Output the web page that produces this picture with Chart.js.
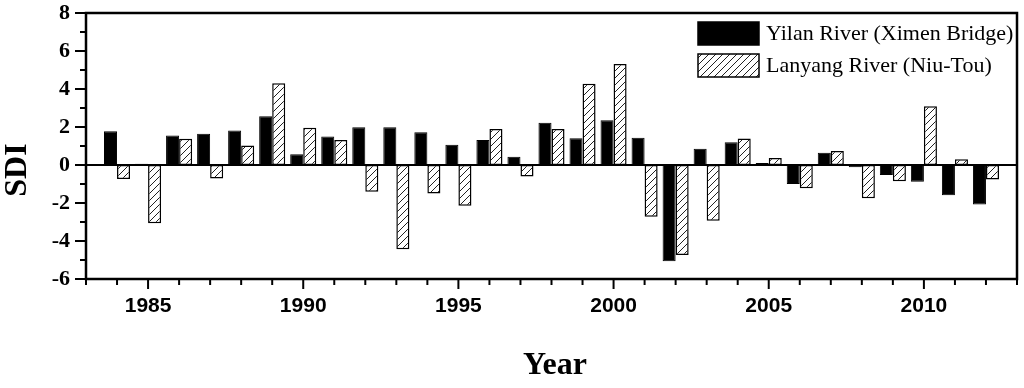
<!DOCTYPE html>
<html>
<head>
<meta charset="utf-8">
<script src="https://cdn.jsdelivr.net/npm/chart.js@4/dist/chart.umd.min.js"></script>
<style>
  html, body { margin: 0; padding: 0; background: #fff; }
  #wrap { width: 1024px; height: 388px; }
</style>
</head>
<body>
<div id="wrap"><canvas id="sdiChart" width="1024" height="388"></canvas></div>
<script>
// years shown on the axis (1983 and 2013 are the empty ends of the frame)
const years = [1983, 1984, 1985, 1986, 1987, 1988, 1989, 1990, 1991, 1992, 1993, 1994, 1995,
  1996, 1997, 1998, 1999, 2000, 2001, 2002, 2003, 2004, 2005, 2006, 2007, 2008, 2009,
  2010, 2011, 2012, 2013];

const yilanSDI = [null, 1.78, 0.07, 1.55, 1.64, 1.82, 2.57, 0.56, 1.50, 1.99, 1.99, 1.73, 1.06,
  1.32, 0.44, 2.22, 1.41, 2.36, 1.43, -5.06, 0.86, 1.20, 0.10, -1.00, 0.65, -0.12, -0.53,
  -0.88, -1.59, -2.08, null];

const lanyangSDI = [null, -0.74, -3.07, 1.38, -0.71, 1.02, 4.30, 1.96, 1.32, -1.41, -4.44, -1.50, -2.15,
  1.90, -0.60, 1.90, 4.27, 5.31, -2.73, -4.74, -2.93, 1.39, 0.37, -1.22, 0.74, -1.75, -0.86,
  3.09, 0.30, -0.76, null];

const yTicks = [-6, -4, -2, 0, 2, 4, 6, 8];

// diagonal hatch for the Lanyang bars
function makeHatch() {
  const s = 7;
  const c = document.createElement("canvas");
  c.width = s; c.height = s;
  const g = c.getContext("2d");
  g.fillStyle = "#fff";
  g.fillRect(0, 0, s, s);
  g.strokeStyle = "#222";
  g.lineWidth = 1;
  g.beginPath();
  g.moveTo(0, s); g.lineTo(s, 0);
  g.moveTo(-1, 1); g.lineTo(1, -1);
  g.moveTo(s - 1, s + 1); g.lineTo(s + 1, s - 1);
  g.stroke();
  return g.createPattern(c, "repeat");
}

const ctx = document.getElementById("sdiChart").getContext("2d");
const hatch = makeHatch();

// frame, minor/major ticks, axis titles and the legend
const decorations = {
  id: "decorations",
  afterDatasetsDraw(chart) {
    const { ctx, chartArea: a, scales } = chart;
    const x = scales.x, y = scales.y;
    ctx.save();
    ctx.strokeStyle = "#000";

    // zero line
    ctx.lineWidth = 2;
    const y0 = y.getPixelForValue(0);
    ctx.beginPath();
    ctx.moveTo(a.left, y0); ctx.lineTo(a.right, y0);
    ctx.stroke();

    // frame
    ctx.lineWidth = 2.5;
    ctx.strokeRect(a.left, a.top, a.right - a.left, a.bottom - a.top);

    // y ticks
    ctx.lineWidth = 2;
    for (let v = -6; v <= 8; v++) {
      const py = y.getPixelForValue(v);
      const len = v % 2 === 0 ? 11 : 6;
      ctx.beginPath();
      ctx.moveTo(a.left - len, py); ctx.lineTo(a.left, py);
      ctx.stroke();
    }
    // x ticks
    years.forEach((yr, i) => {
      const px = x.getPixelForValue(i);
      const len = yr % 5 === 0 ? 10 : 6;
      ctx.beginPath();
      ctx.moveTo(px, a.bottom); ctx.lineTo(px, a.bottom + len);
      ctx.stroke();
    });

    // axis titles
    ctx.fillStyle = "#000";
    ctx.textAlign = "center";
    ctx.textBaseline = "middle";
    ctx.font = "bold 32px 'Liberation Serif'";
    ctx.fillText("Year", 555, 366);
    ctx.save();
    ctx.translate(18, 170);
    ctx.rotate(-Math.PI / 2);
    ctx.fillText("SDI", 0, 0);
    ctx.restore();

    // legend
    ctx.font = "22px 'Liberation Serif'";
    ctx.textAlign = "left";
    chart.data.datasets.forEach((ds, i) => {
      const top = a.top + 9 + i * 32;
      ctx.fillStyle = ds.backgroundColor;
      ctx.fillRect(698, top, 61, 23);
      ctx.lineWidth = 1.5;
      ctx.strokeRect(698, top, 61, 23);
      ctx.fillStyle = "#000";
      ctx.fillText(ds.label, 766, top + 12);
    });
    ctx.restore();
  }
};

new Chart(ctx, {
  type: "bar",
  data: {
    labels: years,
    datasets: [
      {
        label: "Yilan River (Ximen Bridge)",
        data: yilanSDI,
        backgroundColor: "#000",
        borderColor: "#000",
        borderWidth: 1,
        borderSkipped: false
      },
      {
        label: "Lanyang River (Niu-Tou)",
        data: lanyangSDI,
        backgroundColor: hatch,
        borderColor: "#000",
        borderWidth: 1.5,
        borderSkipped: false
      }
    ]
  },
  options: {
    responsive: false,
    animation: false,
    devicePixelRatio: 1,
    layout: { padding: { top: 13, right: 7, left: 0, bottom: 0 } },
    datasets: { bar: { categoryPercentage: 0.84, barPercentage: 1.0 } },
    plugins: {
      legend: { display: false },
      tooltip: { enabled: false }
    },
    scales: {
      x: {
        type: "category",
        offset: false,
        grid: { display: false, drawTicks: false },
        border: { display: false },
        afterFit(scale) {
          scale.height = 109;
          scale.paddingLeft = 0;
          scale.paddingRight = 0;
        },
        ticks: {
          autoSkip: false,
          maxRotation: 0,
          padding: 15,
          color: "#000",
          font: { family: "'Liberation Sans'", weight: "bold", size: 21 },
          callback(value, index) {
            const yr = years[index];
            return yr % 5 === 0 ? String(yr) : "";
          }
        }
      },
      y: {
        min: -6,
        max: 8,
        grid: { display: false, drawTicks: false },
        border: { display: false },
        afterFit(scale) {
          scale.width = 86;
          scale.paddingTop = 0;
          scale.paddingBottom = 0;
        },
        afterBuildTicks(scale) { scale.ticks = yTicks.map(v => ({ value: v })); },
        ticks: {
          padding: 16,
          color: "#000",
          font: { family: "'Liberation Serif'", weight: "bold", size: 22 }
        }
      }
    }
  },
  plugins: [decorations]
});
</script>
</body>
</html>
